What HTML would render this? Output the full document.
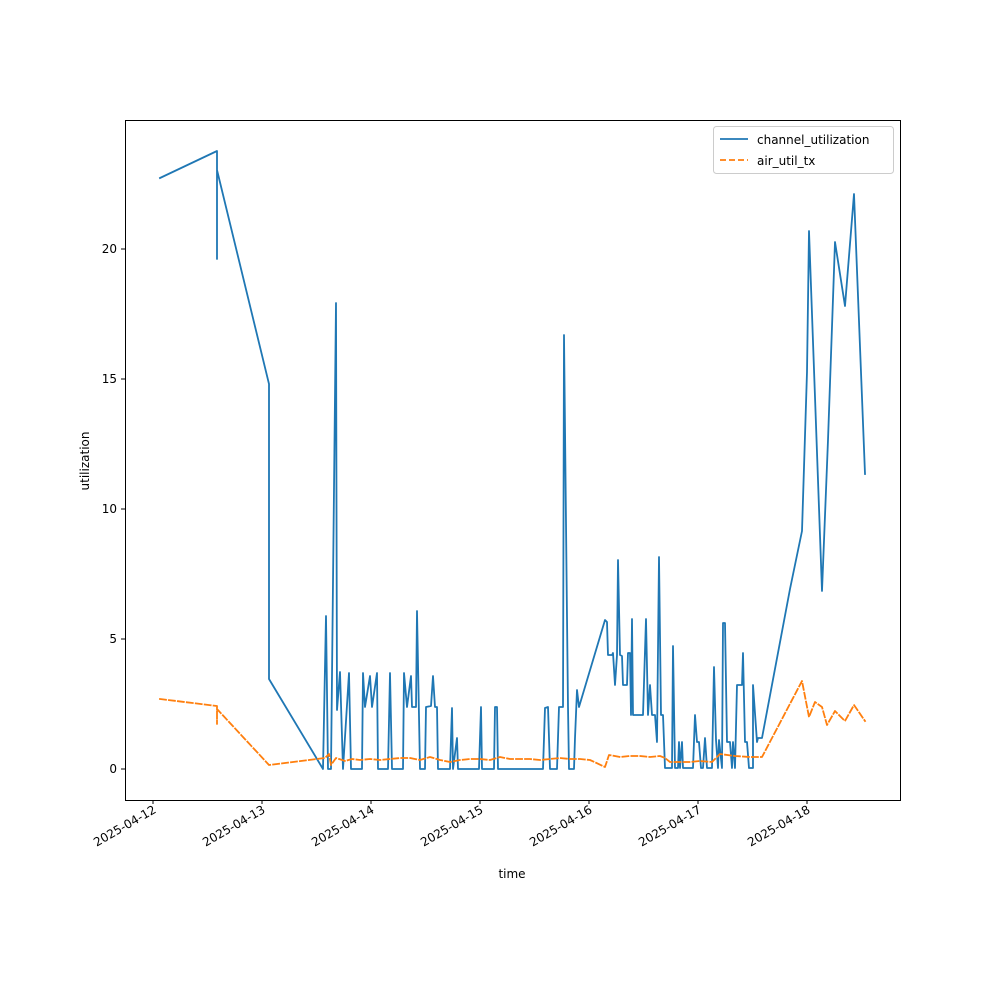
<!DOCTYPE html>
<html><head><meta charset="utf-8"><style>body{margin:0;background:#fff}svg{display:block;font-family:"DejaVu Sans","Liberation Sans",sans-serif}</style></head><body>
<svg width="1000" height="1000" viewBox="0 0 1000 1000">
<rect width="1000" height="1000" fill="#fff"/>
<g fill="none" stroke-linejoin="round" stroke-linecap="square">
<polyline stroke="#1f77b4" stroke-width="1.8" points="160,178 217,151 217,259 217,170 269,384 269,679 323,769 326,616 328,769 331,769 336,303 337,710 340,672 343,769 349,673 351,769 362,769 363,673 365,707 370,676 372,707 377,673 378,769 388,769 390,673 392,769 403,769 404,673 407,707 411,676 412,707 416,707 417,611 420,769 425,769 426,707 431,706 433,676 435,707 437,707 438,769 450,769 452,708 453,769 457,738 458,769 479,769 481,707 482,769 494,769 495,707 497,707 498,769 543,769 545,708 548,707 550,769 557,769 559,707 563,707 564,335 567,617 568,707 569,769 574,769 575,738 577,690 579,707 605,620 607,622 608,655 612,655 613,653 615,685 617,655 618,560 620,655 622,656 623,685 627,685 628,653 630,653 631,715 632,619 633,715 643,715 646,619 648,715 650,685 652,715 655,715 657,742 659,557 661,715 663,715 665,768 672,768 673,646 675,768 678,768 679,742 680,768 682,742 683,768 693,768 695,715 697,742 699,742 701,768 703,768 705,738 707,768 712,768 714,667 716,740 718,768 719,740 722,768 723,623 725,623 727,742 730,742 732,768 733,742 735,768 737,685 742,685 743,653 745,742 747,742 749,768 753,768 753,685 757,742 758,738 762,738 790,589 802,531 807,372 809,231 822,591 828,440 835,242 845,306 854,194 865,474"/>
<polyline stroke="#ff7f0e" stroke-width="1.8" stroke-dasharray="6,3" points="160,699 217,706 217,724 217,709 269,765 325,758 329,754 331,765 336,758 345,761 352,759 360,760 370,759 380,760 390,759 400,758 410,758 420,760 430,757 440,760 450,762 460,760 470,759 480,759 490,760 500,757 510,759 520,759 530,759 540,760 550,759 560,758 570,759 580,759 590,760 605,767 609,755 620,757 630,756 640,756 650,757 660,756 665,758 670,762 680,762 690,762 700,761 712,762 720,754 735,756 750,757 762,757 802,681 809,717 815,702 822,707 827,725 835,711 845,721 854,705 865,721"/>
</g>
<rect x="125.5" y="120.5" width="775" height="680" fill="none" stroke="#000" stroke-width="1"/>
<g stroke="#000" stroke-width="1">
<line x1="125" y1="769" x2="121" y2="769"/><line x1="125" y1="639" x2="121" y2="639"/><line x1="125" y1="509" x2="121" y2="509"/><line x1="125" y1="379" x2="121" y2="379"/><line x1="125" y1="249" x2="121" y2="249"/>
<line x1="153" y1="800" x2="153" y2="804"/><line x1="262" y1="800" x2="262" y2="804"/><line x1="371" y1="800" x2="371" y2="804"/><line x1="480" y1="800" x2="480" y2="804"/><line x1="589" y1="800" x2="589" y2="804"/><line x1="698" y1="800" x2="698" y2="804"/><line x1="807" y1="800" x2="807" y2="804"/>
</g>
<g font-size="12" fill="#000" text-anchor="end">
<text x="117" y="773">0</text><text x="117" y="643">5</text><text x="117" y="513">10</text><text x="117" y="383">15</text><text x="117" y="253">20</text>
<text transform="translate(157,812) rotate(-30)">2025-04-12</text>
<text transform="translate(266,812) rotate(-30)">2025-04-13</text>
<text transform="translate(375,812) rotate(-30)">2025-04-14</text>
<text transform="translate(484,812) rotate(-30)">2025-04-15</text>
<text transform="translate(593,812) rotate(-30)">2025-04-16</text>
<text transform="translate(702,812) rotate(-30)">2025-04-17</text>
<text transform="translate(811,812) rotate(-30)">2025-04-18</text>
</g>
<text x="512" y="878" font-size="12" text-anchor="middle">time</text>
<text transform="translate(89,461) rotate(-90)" font-size="12" text-anchor="middle">utilization</text>
<rect x="713.5" y="126.5" width="180" height="47" rx="3" fill="#fff" stroke="#ccc"/>
<line x1="720" y1="139" x2="748" y2="139" stroke="#1f77b4" stroke-width="1.8"/>
<line x1="720" y1="160" x2="748" y2="160" stroke="#ff7f0e" stroke-width="1.8" stroke-dasharray="6,3"/>
<text x="757" y="144" font-size="12">channel_utilization</text>
<text x="757" y="165" font-size="12">air_util_tx</text>
</svg>
</body></html>
